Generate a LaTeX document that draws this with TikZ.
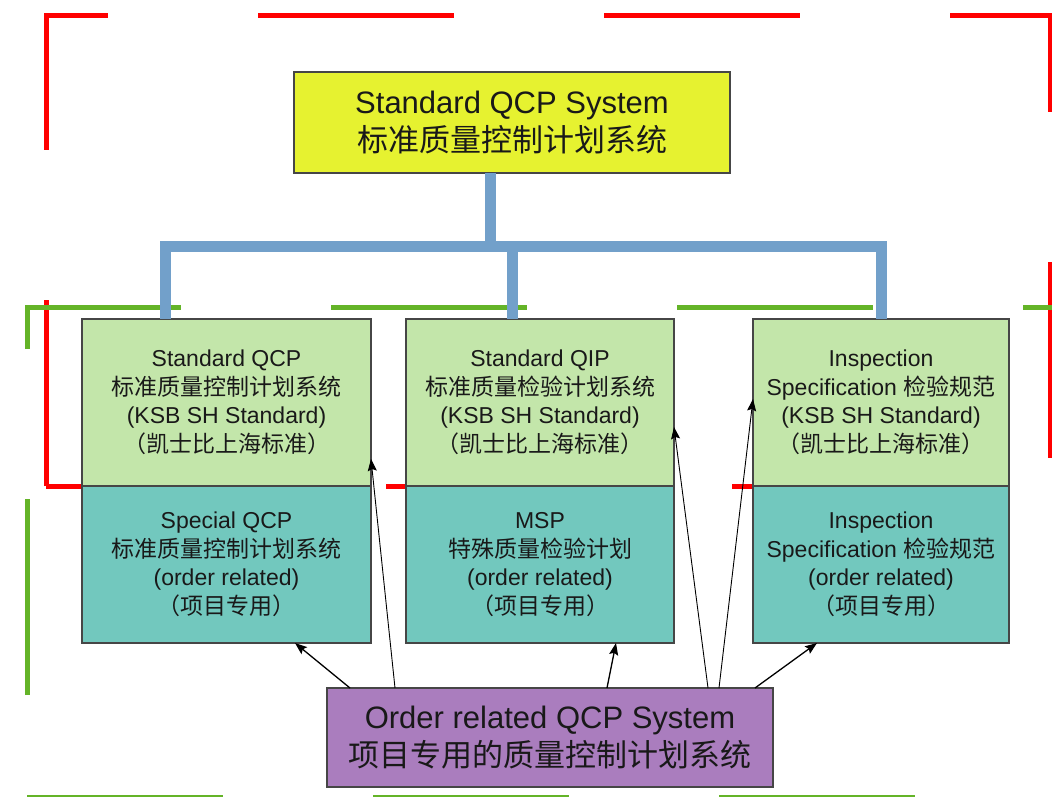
\documentclass[tikz,border=0pt]{standalone}
\usepackage{fontspec}
\setmainfont{Liberation Sans}
\newfontfamily\cjkfont{Noto Sans CJK SC}
\usetikzlibrary{arrows.meta}
\definecolor{qcpyellow}{RGB}{230,242,48}
\definecolor{stdgreen}{RGB}{195,230,170}
\definecolor{ordteal}{RGB}{114,200,190}
\definecolor{syspurple}{RGB}{170,125,190}
\definecolor{linkblue}{RGB}{114,160,202}
\definecolor{boxedge}{RGB}{70,70,70}
\definecolor{frgreen}{RGB}{100,180,40}
\begin{document}
\begin{tikzpicture}[x=1pt,y=-1pt,line join=miter]
	\tikzset{box/.style={draw=boxedge,line width=1.5pt,rectangle,inner sep=0pt,outer sep=0pt,align=center,text=black!90},
		bigbox/.style={box,font=\fontsize{31pt}{38pt}\selectfont},
		smallbox/.style={box,font=\fontsize{23pt}{28.5pt}\selectfont},
		redframe/.style={draw=red,line width=5pt,dash pattern=on 196pt off 150pt,dash phase=10pt},
		greenframe/.style={draw=frgreen,line width=5pt,dash pattern=on 196pt off 150pt,dash phase=244pt},
		bluelink/.style={draw=linkblue,line width=11pt},
		feed/.style={-{Stealth[length=12pt,width=9pt,inset=2pt]},line width=1.3pt}}
	\useasboundingbox (0,0) rectangle (1052,797);
	\draw[redframe] (46,486)--(46,16)--(1050,16)--(1050,486)--cycle;
	\draw[greenframe] (27,797)--(27,307)--(1070,307)--(1070,797)--cycle;
	% systems
	\node[bigbox,fill=qcpyellow,minimum width=436pt,minimum height=101pt] (qcpsys) at (512,122.5)
		{Standard QCP System\\{\cjkfont 标准质量控制计划系统}};
	\node[bigbox,fill=syspurple,minimum width=446pt,minimum height=99pt] (ordsys) at (550,737.5)
		{Order related QCP System\\{\cjkfont 项目专用的质量控制计划系统}};
	% standard documents
	\node[smallbox,fill=stdgreen,minimum width=289pt,minimum height=167pt] (stdqcp) at (226.5,402.5)
		{Standard QCP\\{\cjkfont 标准质量控制计划系统}\\(KSB SH Standard)\\{\cjkfont （凯士比上海标准）}};
	\node[smallbox,fill=stdgreen,minimum width=268pt,minimum height=167pt] (stdqip) at (540,402.5)
		{Standard QIP\\{\cjkfont 标准质量检验计划系统}\\(KSB SH Standard)\\{\cjkfont （凯士比上海标准）}};
	\node[smallbox,fill=stdgreen,minimum width=256pt,minimum height=167pt] (stdspec) at (881,402.5)
		{Inspection\\Specification {\cjkfont 检验规范}\\(KSB SH Standard)\\{\cjkfont （凯士比上海标准）}};
	% order related documents
	\node[smallbox,fill=ordteal,minimum width=289pt,minimum height=157pt] (spcqcp) at (226.5,564.5)
		{Special QCP\\{\cjkfont 标准质量控制计划系统}\\(order related)\\{\cjkfont （项目专用）}};
	\node[smallbox,fill=ordteal,minimum width=268pt,minimum height=157pt] (msp) at (540,564.5)
		{MSP\\{\cjkfont 特殊质量检验计划}\\(order related)\\{\cjkfont （项目专用）}};
	\node[smallbox,fill=ordteal,minimum width=256pt,minimum height=157pt] (ordspec) at (881,564.5)
		{Inspection\\Specification {\cjkfont 检验规范}\\(order related)\\{\cjkfont （项目专用）}};
	\coordinate (hub) at (490,246);
	\draw[bluelink] (hub |- qcpsys.south)--(hub) -| ([xshift=-61.5pt]stdqcp.north);
	\draw[bluelink] (hub) -| ([xshift=-28pt]stdqip.north);
	\draw[bluelink] (hub) -| (stdspec.north);
	\draw[feed] ([xshift=-200pt]ordsys.north)--([xshift=68.5pt]spcqcp.south);
	\draw[feed,line width=0.9pt] ([xshift=-155pt]ordsys.north)--([yshift=-56.5pt]stdqcp.east);
	\draw[feed] ([xshift=57pt]ordsys.north)--([xshift=76pt]msp.south);
	\draw[feed,line width=0.9pt] ([xshift=158pt]ordsys.north)--([yshift=-24.5pt]stdqip.east);
	\draw[feed,line width=0.9pt] ([xshift=169pt]ordsys.north)--([yshift=3.5pt]stdspec.west);
	\draw[feed] ([xshift=205pt]ordsys.north)--([xshift=-64pt]ordspec.south);
\end{tikzpicture}
\end{document}
